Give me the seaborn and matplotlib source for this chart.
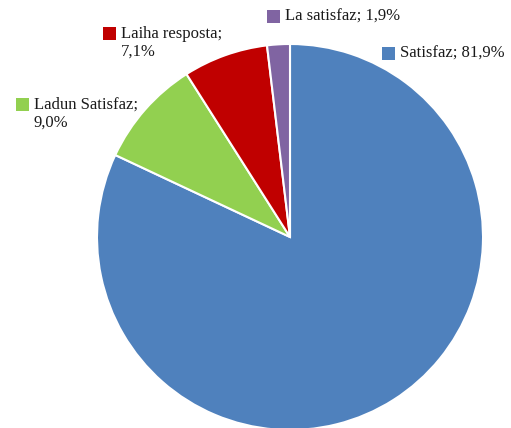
import matplotlib
matplotlib.use("Agg")
import matplotlib.pyplot as plt
import seaborn as sns
from matplotlib.patches import Rectangle

# Data
labels = ["Satisfaz", "Ladun Satisfaz", "Laiha resposta", "La satisfaz"]
values = [81.9, 9.0, 7.1, 1.9]
colors = ["#4F81BD", "#92D050", "#C00000", "#8064A2"]

sns.set_style("white")
plt.rcParams["font.family"] = ["Liberation Serif", "DejaVu Serif"]

W, H = 511, 428
fig = plt.figure(figsize=(W / 100, H / 100), dpi=100)

# Pie placed by pixel box (centre ~ (290, 237), radius ~193)
ax = fig.add_axes([97 / W, (H - 430) / H, 386 / W, 386 / H])
ax.pie(
    values,
    colors=colors,
    startangle=90,
    counterclock=False,
    radius=1,
    wedgeprops={"edgecolor": "white", "linewidth": 1.5},
)
ax.set_xlim(-1, 1)
ax.set_ylim(-1, 1)
ax.axis("off")


def fx(x):
    return x / W


def fy(y):
    return 1 - y / H


# (square x, square y top, text lines) in pixel coords
label_pos = {
    "Satisfaz": (382, 47, ["Satisfaz; 81,9%"]),
    "Ladun Satisfaz": (16, 98, ["Ladun Satisfaz;", "9,0%"]),
    "Laiha resposta": (103, 27, ["Laiha resposta;", "7,1%"]),
    "La satisfaz": (267, 10, ["La satisfaz; 1,9%"]),
}

sq = 13
for lab, col in zip(labels, colors):
    x, y, lines = label_pos[lab]
    fig.patches.append(
        Rectangle((fx(x), fy(y + sq)), sq / W, sq / H,
                  transform=fig.transFigure, facecolor=col, edgecolor="none")
    )
    for i, line in enumerate(lines):
        fig.text(fx(x + sq + 5), fy(y + sq / 2 + i * 18.5), line,
                 fontsize=12, color="#1a1a1a", va="center", ha="left")

plt.savefig("out.png", dpi=100)
